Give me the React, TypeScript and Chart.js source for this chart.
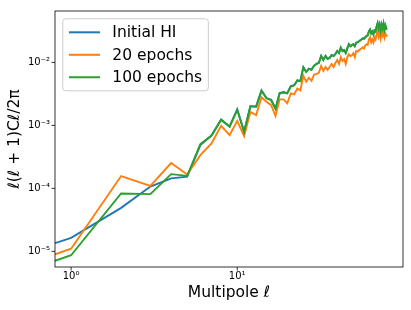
import React, { useEffect, useRef } from "react";
import { Chart, registerables } from "chart.js";

Chart.register(...registerables);

// Multipole ℓ (first entry is where the ℓ=0 segment meets the left edge)
const multipoles = [
  0.8, 1, 2, 3, 4, 5, 6, 7, 8, 9, 10,
  11, 12, 13, 14, 15, 16, 17, 18, 19, 20,
  21, 22, 23, 24, 25, 26, 27, 28, 29, 30,
  31, 32, 33, 34, 35, 36, 37, 38, 39, 40,
  41, 42, 43, 44, 45, 46, 47, 48, 49, 50,
  51, 52, 53, 54, 55, 56, 57, 58, 59, 60,
  61, 62, 63, 64, 65, 66, 67, 68, 69, 70,
  71, 72, 73, 74, 75, 76, 77, 78, 79, 80,
];

const initialHI = [
  1.35e-5, 1.64e-5, 4.9e-5, 1.07e-4, 1.44e-4, 1.53e-4, 4.86e-4, 6.9e-4, 1.24e-3, 9.6e-4, 1.81e-3,
  8.09e-4, 2.02e-3, 2.0e-3, 3.58e-3, 2.72e-3, 2.55e-3, 1.86e-3, 3.25e-3, 3.38e-3, 3.25e-3,
  4.2e-3, 4.35e-3, 5.2e-3, 5.1e-3, 8.4e-3, 7.1e-3, 7.95e-3, 7.7e-3, 8.9e-3, 9.5e-3,
  9.9e-3, 1.27e-2, 1.1e-2, 1.27e-2, 1.14e-2, 1.18e-2, 1.31e-2, 1.27e-2, 1.36e-2, 1.52e-2,
  1.41e-2, 1.72e-2, 1.52e-2, 1.57e-2, 1.42e-2, 1.69e-2, 1.95e-2, 1.82e-2, 1.88e-2, 1.95e-2,
  1.82e-2, 2.06e-2, 2.1e-2, 2.17e-2, 2.25e-2, 2.33e-2, 2.42e-2, 2.38e-2, 2.51e-2, 2.64e-2,
  2.7e-2, 3.1e-2, 3.33e-2, 2.9e-2, 3.1e-2, 2.8e-2, 3.22e-2, 3.1e-2, 3.72e-2, 4.2e-2,
  3.45e-2, 3.98e-2, 3.22e-2, 3.98e-2, 3.45e-2, 4.13e-2, 3.33e-2, 3.85e-2, 3.45e-2, 3.45e-2,
];

const epochs20 = [
  8.98e-6, 1.1e-5, 1.57e-4, 1.09e-4, 2.52e-4, 1.66e-4, 3.36e-4, 5.16e-4, 9.86e-4, 7.01e-4, 1.18e-3,
  6.76e-4, 1.63e-3, 1.46e-3, 2.79e-3, 2.37e-3, 2.09e-3, 1.41e-3, 2.59e-3, 2.59e-3, 2.25e-3,
  3.22e-3, 3.1e-3, 3.85e-3, 3.59e-3, 6.14e-3, 4.95e-3, 5.71e-3, 5.13e-3, 6.37e-3, 6.59e-3,
  6.84e-3, 8.79e-3, 7.35e-3, 8.47e-3, 7.62e-3, 8.47e-3, 9.44e-3, 8.47e-3, 9.79e-3, 1.09e-2,
  9.44e-3, 1.21e-2, 1.05e-2, 1.13e-2, 9.44e-3, 1.21e-2, 1.35e-2, 1.26e-2, 1.3e-2, 1.4e-2,
  1.21e-2, 1.51e-2, 1.48e-2, 1.56e-2, 1.62e-2, 1.67e-2, 1.74e-2, 1.67e-2, 1.87e-2, 1.94e-2,
  1.9e-2, 2.31e-2, 2.49e-2, 2.08e-2, 2.31e-2, 2.08e-2, 2.49e-2, 2.31e-2, 2.77e-2, 3.2e-2,
  2.58e-2, 2.98e-2, 2.4e-2, 2.98e-2, 2.67e-2, 3.08e-2, 2.49e-2, 2.87e-2, 2.67e-2, 2.58e-2,
];

const epochs100 = [
  7.06e-6, 8.66e-6, 8.3e-5, 8.09e-5, 1.68e-4, 1.58e-4, 5.04e-4, 6.89e-4, 1.22e-3, 9.51e-4, 1.75e-3,
  7.81e-4, 2.0e-3, 1.98e-3, 3.52e-3, 2.69e-3, 2.51e-3, 1.82e-3, 3.22e-3, 3.33e-3, 3.22e-3,
  4.14e-3, 4.29e-3, 5.13e-3, 5.0e-3, 8.34e-3, 7.08e-3, 7.89e-3, 7.62e-3, 8.79e-3, 9.44e-3,
  9.79e-3, 1.26e-2, 1.09e-2, 1.26e-2, 1.13e-2, 1.17e-2, 1.3e-2, 1.26e-2, 1.35e-2, 1.51e-2,
  1.4e-2, 1.71e-2, 1.51e-2, 1.56e-2, 1.4e-2, 1.67e-2, 1.94e-2, 1.8e-2, 1.87e-2, 1.94e-2,
  1.8e-2, 2.04e-2, 2.08e-2, 2.15e-2, 2.23e-2, 2.31e-2, 2.4e-2, 2.36e-2, 2.49e-2, 2.62e-2,
  2.67e-2, 3.08e-2, 3.31e-2, 2.87e-2, 3.08e-2, 2.77e-2, 3.2e-2, 3.08e-2, 3.69e-2, 4.18e-2,
  3.43e-2, 3.96e-2, 3.2e-2, 3.96e-2, 3.43e-2, 4.11e-2, 3.31e-2, 3.83e-2, 3.43e-2, 3.43e-2,
];

const seriesLabels = ["Initial HI", "20 epochs", "100 epochs"];
const seriesColors = ["#1f77b4", "#ff7f0e", "#2ca02c"];
const xTitle = "Multipole ℓ";
const yTitle = "ℓ(ℓ + 1)Cℓ/2π";

const X_MIN = 0.8;
const X_MAX = 99.5;
const Y_MIN = 5.64e-6;
const Y_MAX = 0.0655;

const FONT = "'DejaVu Sans', sans-serif";
const SUP: Record<string, string> = {
  "-": "⁻", "0": "⁰", "1": "¹", "2": "²", "3": "³", "4": "⁴",
  "5": "⁵", "6": "⁶", "7": "⁷", "8": "⁸", "9": "⁹",
};

function powExp(v: number): number | null {
  const e = Math.log10(v);
  const r = Math.round(e);
  return Math.abs(e - r) < 1e-6 ? r : null;
}

function pow10Label(v: number): string | null {
  const r = powExp(v);
  if (r === null) return null;
  return "10" + String(r).split("").map((c) => SUP[c]).join("");
}

function logTicks(min: number, max: number) {
  const out: { value: number }[] = [];
  const e0 = Math.floor(Math.log10(min));
  const e1 = Math.ceil(Math.log10(max));
  for (let e = e0; e <= e1; e++) {
    for (let m = 1; m <= 9; m++) {
      const v = m * Math.pow(10, e);
      if (v >= min * 0.9999 && v <= max * 1.0001) out.push({ value: v });
    }
  }
  return out;
}

const decorPlugin = {
  id: "decor",
  afterDraw(chart: any) {
    const ctx = chart.ctx as CanvasRenderingContext2D;
    const a = chart.chartArea;
    const xs = chart.scales.x;
    const ys = chart.scales.y;
    ctx.save();
    ctx.strokeStyle = "#000";
    // tick marks (outward)
    xs.ticks.forEach((t: any) => {
      const major = powExp(t.value) !== null;
      const px = xs.getPixelForValue(t.value);
      ctx.lineWidth = major ? 0.8 : 0.6;
      ctx.beginPath();
      ctx.moveTo(px, a.bottom);
      ctx.lineTo(px, a.bottom + (major ? 3.5 : 2));
      ctx.stroke();
    });
    ys.ticks.forEach((t: any) => {
      const major = powExp(t.value) !== null;
      const py = ys.getPixelForValue(t.value);
      ctx.lineWidth = major ? 0.8 : 0.6;
      ctx.beginPath();
      ctx.moveTo(a.left, py);
      ctx.lineTo(a.left - (major ? 3.5 : 2), py);
      ctx.stroke();
    });
    // frame
    ctx.lineWidth = 0.8;
    ctx.strokeRect(a.left, a.top, a.right - a.left, a.bottom - a.top);

    // legend
    const fs = 15.5;
    ctx.font = `${fs}px ${FONT}`;
    const ds = chart.data.datasets;
    const order = [0, 1, 2];
    let maxW = 0;
    order.forEach((i) => {
      maxW = Math.max(maxW, ctx.measureText(ds[i].label).width);
    });
    const pad = 0.4 * fs;
    const handleLen = 2 * fs;
    const handleGap = 0.8 * fs;
    const rowH = 0.95 * fs;
    const spacing = 0.5 * fs;
    const lx = a.left + 0.5 * fs;
    const ly = a.top + 0.5 * fs;
    const w = pad * 2 + handleLen + handleGap + maxW;
    const h = pad * 2 + rowH * order.length + spacing * (order.length - 1);
    ctx.beginPath();
    if ((ctx as any).roundRect) (ctx as any).roundRect(lx, ly, w, h, 3);
    else ctx.rect(lx, ly, w, h);
    ctx.fillStyle = "rgba(255,255,255,0.8)";
    ctx.fill();
    ctx.strokeStyle = "#cccccc";
    ctx.lineWidth = 1;
    ctx.stroke();
    order.forEach((i, k) => {
      const cy = ly + pad + rowH / 2 + k * (rowH + spacing);
      ctx.strokeStyle = ds[i].borderColor;
      ctx.lineWidth = 2;
      ctx.beginPath();
      ctx.moveTo(lx + pad, cy);
      ctx.lineTo(lx + pad + handleLen, cy);
      ctx.stroke();
      ctx.fillStyle = "#000";
      ctx.textBaseline = "middle";
      ctx.textAlign = "left";
      ctx.fillText(ds[i].label, lx + pad + handleLen + handleGap, cy + 1);
    });
    ctx.restore();
  },
};

export default function App() {
  const ref = useRef<HTMLCanvasElement | null>(null);

  useEffect(() => {
    if (!ref.current) return;
    const series = [initialHI, epochs20, epochs100];
    const chart = new Chart(ref.current, {
      type: "line",
      data: {
        datasets: series.map((s, i) => ({
          label: seriesLabels[i],
          data: multipoles.map((l, j) => ({ x: l, y: s[j] })),
          borderColor: seriesColors[i],
          backgroundColor: seriesColors[i],
          borderWidth: 1.9,
          pointRadius: 0,
          tension: 0,
          fill: false,
          order: 2 - i,
        })),
      },
      options: {
        responsive: false,
        animation: false,
        layout: { padding: { top: 6, right: 8, left: 0, bottom: 0 } },
        plugins: {
          legend: { display: false },
          tooltip: { enabled: false },
        },
        scales: {
          x: {
            type: "logarithmic",
            min: X_MIN,
            max: X_MAX,
            grid: { display: false, drawTicks: false },
            border: { display: false },
            afterBuildTicks: (scale: any) => {
              scale.ticks = logTicks(X_MIN, X_MAX);
            },
            afterFit: (scale: any) => {
              scale.height = 43;
            },
            ticks: {
              autoSkip: false,
              maxRotation: 0,
              padding: 3,
              color: "#000",
              font: { family: FONT, size: 10 },
              callback: (v: any) => pow10Label(Number(v)),
            },
            title: {
              display: true,
              text: xTitle,
              color: "#000",
              font: { family: FONT, size: 15.5 },
              padding: { top: 0, bottom: 7.4 },
            },
          },
          y: {
            type: "logarithmic",
            min: Y_MIN,
            max: Y_MAX,
            grid: { display: false, drawTicks: false },
            border: { display: false },
            afterBuildTicks: (scale: any) => {
              scale.ticks = logTicks(Y_MIN, Y_MAX);
            },
            afterFit: (scale: any) => {
              scale.width = 55;
            },
            ticks: {
              autoSkip: false,
              padding: 5,
              color: "#000",
              font: { family: FONT, size: 10 },
              callback: (v: any) => pow10Label(Number(v)),
            },
            title: {
              display: true,
              text: yTitle,
              color: "#000",
              font: { family: FONT, size: 15.5 },
              padding: { top: 5.7, bottom: 0 },
            },
          },
        },
      },
      plugins: [decorPlugin],
    } as any);
    return () => chart.destroy();
  }, []);

  return (
    <div style={{ position: "fixed", left: 0, top: 0, width: 411, height: 310, background: "#fff" }}>
      <canvas ref={ref} width={411} height={310} style={{ display: "block" }} />
    </div>
  );
}
